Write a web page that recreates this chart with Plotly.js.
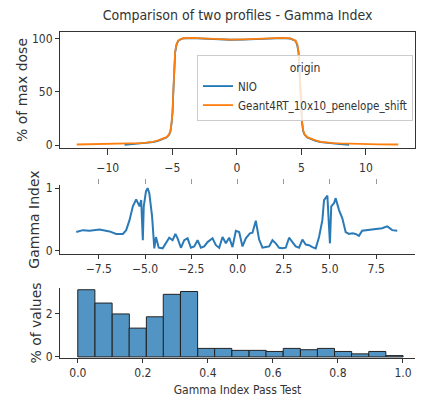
<!DOCTYPE html>
<html>
<head>
<meta charset="utf-8">
<script src="https://cdn.plot.ly/plotly-3.0.1.min.js"></script>
<style>html,body{margin:0;padding:0;background:#fff;}#chart{width:434px;height:404px;}</style>
</head>
<body>
<div id="chart"></div>
<script>
// ---- Dose profiles (top panel) ----
const profileX_G4 = [-12.4, -11, -10, -9, -8, -7.5, -7, -6.5, -6.1, -5.8, -5.45, -5.25, -5.14, -5.05, -4.98, -4.93, -4.88, -4.83, -4.78, -4.68, -4.55, -4.35, -4.15, -3.5, -2.5, -1.5, -0.5, 0.5, 1.5, 2.5, 3.5, 4.15, 4.35, 4.55, 4.68, 4.78, 4.83, 4.88, 4.93, 4.98, 5.05, 5.14, 5.25, 5.45, 5.8, 6.1, 6.5, 7, 7.5, 8, 9, 10, 11, 12.5];
const profileY_G4 = [0.5, 0.7, 0.9, 1.1, 1.5, 1.8, 2.2, 3, 4.4, 5.5, 7.4, 10, 13.6, 22, 32, 48, 63, 76, 88, 95, 98.4, 99.8, 100.6, 101, 100.4, 100, 99.4, 99.6, 100.2, 100.6, 101, 100.4, 99.6, 98.2, 95, 88, 76, 63, 48, 32, 22, 13.6, 10, 7.4, 5.5, 4.4, 3, 2.2, 1.8, 1.5, 1.1, 0.9, 0.7, 0.5];
const profileX_NIO = [-8.7, -8, -7.5, -7, -6.5, -6.1, -5.8, -5.45, -5.25, -5.14, -5.05, -4.98, -4.93, -4.88, -4.83, -4.78, -4.68, -4.55, -4.35, -4.15, -3.5, -2.5, -1.5, -0.5, 0.5, 1.5, 2.5, 3.5, 4.15, 4.35, 4.55, 4.68, 4.78, 4.83, 4.88, 4.93, 4.98, 5.05, 5.14, 5.25, 5.45, 5.8, 6.1, 6.5, 7, 7.5, 8, 8.7];
const profileY_NIO = [0.2, 0.8, 1.3, 1.9, 2.7, 4.0, 5.2, 7.0, 9.6, 13, 21, 31, 47, 62, 75, 87, 94, 98, 99.6, 100.4, 100.8, 100.2, 99.8, 99.2, 99.4, 100, 100.4, 100.8, 100.2, 99.4, 98, 94, 87, 75, 62, 47, 31, 21, 13, 9.6, 7.0, 5.2, 4.0, 2.7, 1.9, 1.3, 0.8, 0.2];

// ---- Gamma index (middle panel) ----
const gammaX = [-8.72, -8.36, -8.00, -7.46, -6.92, -6.56, -6.20, -6.02, -5.84, -5.66, -5.48, -5.30, -5.21, -5.12, -5.07, -4.95, -4.86, -4.77, -4.62, -4.50, -4.41, -4.26, -4.05, -3.87, -3.69, -3.51, -3.36, -3.24, -3.06, -2.88, -2.70, -2.52, -2.34, -2.16, -1.98, -1.80, -1.62, -1.35, -1.17, -0.99, -0.81, -0.63, -0.45, -0.27, -0.09, 0.09, 0.27, 0.45, 0.67, 0.81, 0.99, 1.17, 1.35, 1.53, 1.71, 1.89, 2.07, 2.25, 2.43, 2.61, 2.79, 2.97, 3.15, 3.33, 3.51, 3.69, 3.87, 4.05, 4.23, 4.41, 4.59, 4.68, 4.86, 4.95, 5.00, 5.07, 5.22, 5.31, 5.49, 5.67, 5.85, 6.03, 6.21, 6.39, 6.57, 6.74, 7.10, 7.46, 7.82, 8.10, 8.37, 8.64];
const gammaY = [0.30, 0.33, 0.32, 0.34, 0.31, 0.27, 0.27, 0.33, 0.49, 0.71, 0.82, 0.71, 0.81, 0.17, 0.71, 0.95, 1.00, 0.92, 0.55, 0.04, 0.22, 0.05, 0.04, 0.12, 0.21, 0.17, 0.27, 0.20, 0.05, 0.17, 0.20, 0.05, 0.07, 0.17, 0.05, 0.07, 0.14, 0.20, 0.09, 0.05, 0.22, 0.12, 0.21, 0.06, 0.32, 0.30, 0.07, 0.20, 0.28, 0.29, 0.48, 0.18, 0.05, 0.06, 0.07, 0.17, 0.12, 0.05, 0.04, 0.05, 0.21, 0.14, 0.07, 0.05, 0.18, 0.10, 0.09, 0.06, 0.04, 0.22, 0.49, 0.81, 0.88, 0.38, 0.12, 0.71, 0.76, 0.84, 0.65, 0.52, 0.30, 0.27, 0.28, 0.27, 0.24, 0.32, 0.33, 0.34, 0.36, 0.39, 0.33, 0.32];

// ---- Histogram of gamma values (bottom panel) ----
const histBinCenters = [0.026, 0.079, 0.132, 0.184, 0.237, 0.289, 0.342, 0.395, 0.447, 0.500, 0.553, 0.605, 0.658, 0.711, 0.763, 0.816, 0.868, 0.921, 0.974];
const histPercent = [3.08, 2.47, 1.97, 1.32, 1.84, 2.87, 3.00, 0.39, 0.39, 0.30, 0.30, 0.25, 0.39, 0.33, 0.39, 0.25, 0.14, 0.25, 0.06];

// tick positions
const profileTicks = [-10, -5, 0, 5, 10];
const gammaTicks = [-7.5, -5, -2.5, 0, 2.5, 5, 7.5];
const histTicks = [0, 0.2, 0.4, 0.6, 0.8, 1.0];

const FONT_H = "DejaVu Sans Condensed, Liberation Sans Narrow, DejaVu Sans, sans-serif";
const FONT_V = "DejaVu Sans, sans-serif";
const INK = "#333";

const traces = [
  {x: profileX_NIO, y: profileY_NIO, type: 'scatter', mode: 'lines', name: 'NIO',
   line: {color: '#1f77b4', width: 1.8}, xaxis: 'x', yaxis: 'y'},
  {x: profileX_G4, y: profileY_G4, type: 'scatter', mode: 'lines', name: 'Geant4RT_10x10_penelope_shift',
   line: {color: '#ff7f0e', width: 1.8}, xaxis: 'x', yaxis: 'y'},
  {x: gammaX, y: gammaY, type: 'scatter', mode: 'lines', showlegend: false,
   line: {color: '#2a7ab8', width: 2}, xaxis: 'x2', yaxis: 'y2'},
  {x: [], y: [], type: 'scatter', mode: 'lines', showlegend: false, xaxis: 'x4', yaxis: 'y2'},
  {x: histBinCenters, y: histPercent, type: 'bar', showlegend: false, width: 0.0526,
   marker: {color: 'rgb(82,148,196)', line: {color: '#222', width: 1}}, xaxis: 'x3', yaxis: 'y3'}
];

const H = 404;
const dom = (topPx, botPx) => [1 - botPx / H, 1 - topPx / H];

const axBase = {showgrid: false, zeroline: false, showline: true, linecolor: INK, linewidth: 1,
  ticks: 'outside', ticklen: 4, tickcolor: INK, automargin: false,
  tickfont: {family: FONT_H, size: 12, color: INK}};

const layout = {
  width: 434, height: 404,
  margin: {l: 60, r: 19, t: 0, b: 0, autoexpand: false},
  paper_bgcolor: '#fff', plot_bgcolor: '#fff',
  font: {family: FONT_H, size: 12, color: INK},
  title: {text: 'Comparison of two profiles - Gamma Index', x: 0.5, xref: 'paper', xanchor: 'center',
          y: 1 - 15 / H, yref: 'container', yanchor: 'middle', font: {family: FONT_H, size: 14, color: INK}},
  xaxis: Object.assign({}, axBase, {domain: [0, 1], anchor: 'y', range: [-13.7, 13.8], mirror: true,
          tickvals: profileTicks, ticklen: 6, ticklabelstandoff: 3}),
  yaxis: Object.assign({}, axBase, {domain: dom(32, 148), anchor: 'x', range: [-2.8, 106.5], mirror: true,
          tickvals: [0, 50, 100],
          title: {text: '% of max dose', font: {family: FONT_V, size: 14, color: INK}, standoff: 1}}),
  xaxis2: Object.assign({}, axBase, {domain: [0, 1], anchor: 'y2', range: [-9.6, 9.6],
          tickvals: gammaTicks, tickformat: '.1f'}),
  yaxis2: Object.assign({}, axBase, {domain: dom(185, 254), anchor: 'x2', range: [-0.05, 1.05],
          tickvals: [0, 1],
          title: {text: 'Gamma Index', font: {family: FONT_V, size: 14, color: INK}, standoff: 2}}),
  xaxis4: {overlaying: 'x2', anchor: 'y2', side: 'top', range: [-9.6, 9.6], showgrid: false, zeroline: false,
          showline: false, ticks: 'outside', ticklen: 5, tickcolor: '#999', showticklabels: false,
          tickvals: gammaTicks},
  xaxis3: Object.assign({}, axBase, {domain: [0, 1], anchor: 'y3', range: [-0.055, 1.037],
          tickvals: histTicks, tickformat: '.1f',
          title: {text: 'Gamma Index Pass Test', font: {family: FONT_H, size: 12, color: INK}, standoff: 6}}),
  yaxis3: Object.assign({}, axBase, {domain: dom(288, 358), anchor: 'x3', range: [-0.05, 3.16],
          tickvals: [0, 2],
          title: {text: '% of values', font: {family: FONT_V, size: 14, color: INK}, standoff: 0}}),
  bargap: 0,
  legend: {x: (197 - 60) / 355, y: 1 - 55 / H, xref: 'paper', yref: 'paper', xanchor: 'left', yanchor: 'top',
           bgcolor: 'rgba(255,255,255,0.8)', bordercolor: '#ccc', borderwidth: 1,
           font: {family: FONT_H, size: 11.5, color: INK}, tracegroupgap: 0,
           title: {text: 'origin', side: 'top center', font: {family: FONT_H, size: 12, color: INK}}},
  showlegend: true
};

Plotly.newPlot('chart', traces, layout, {displayModeBar: false, staticPlot: true});
</script>
</body>
</html>
